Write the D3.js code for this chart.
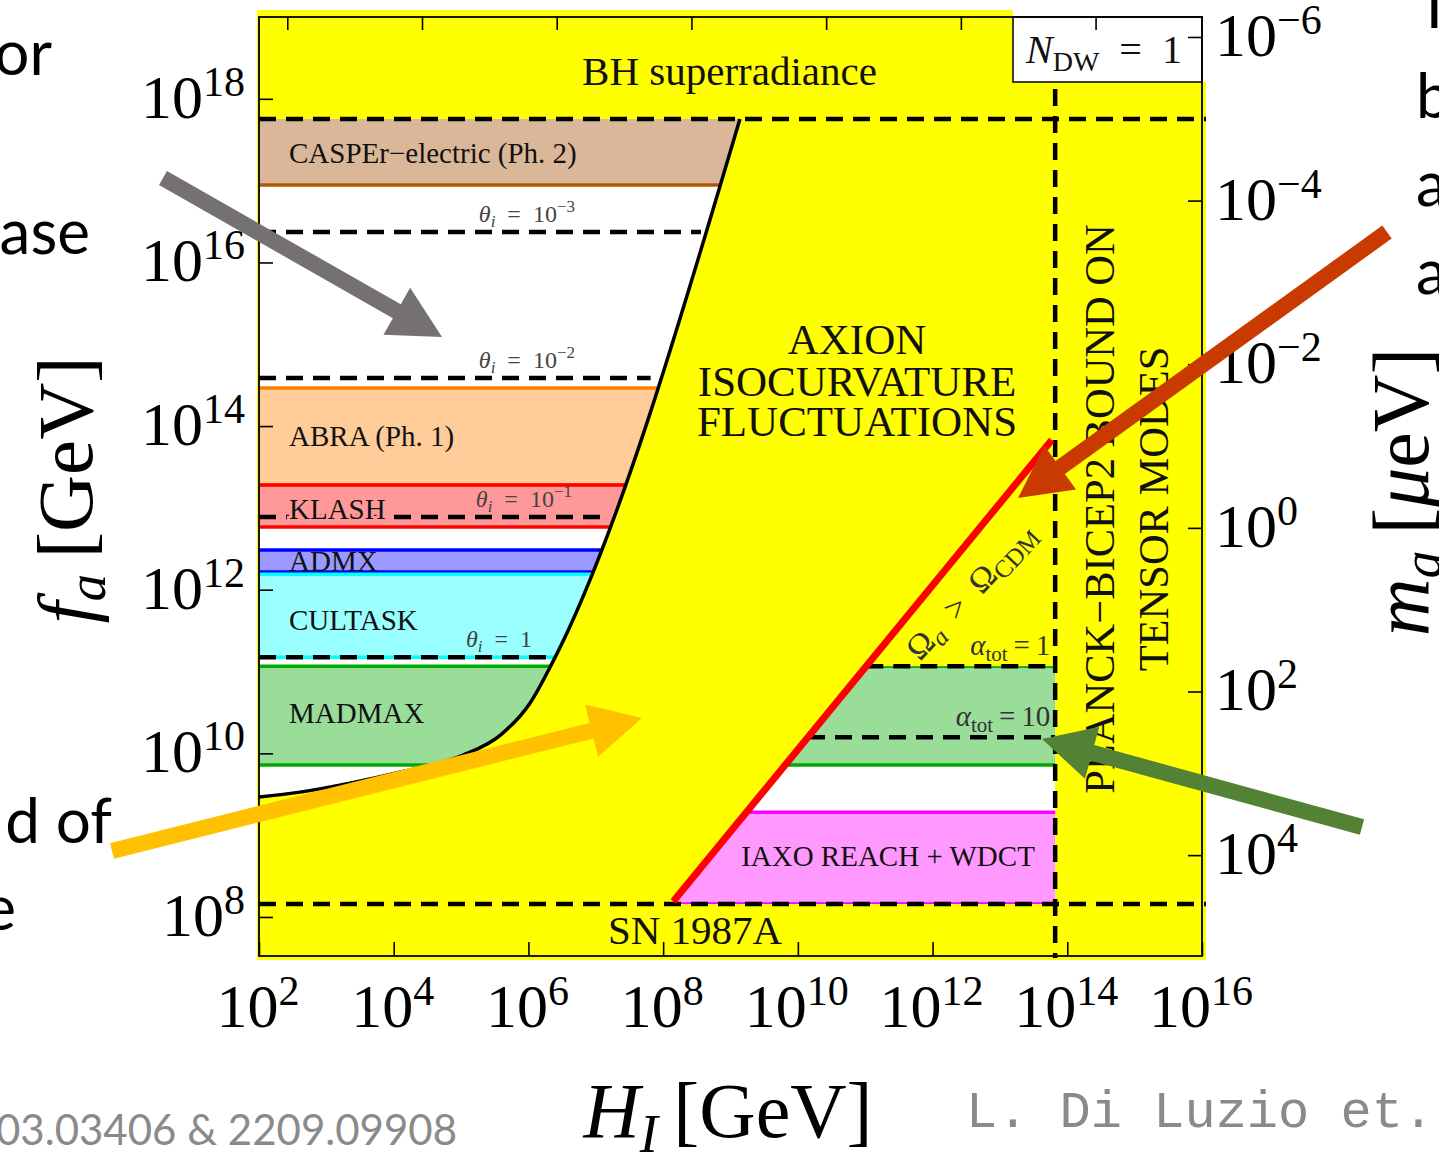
<!DOCTYPE html>
<html>
<head>
<meta charset="utf-8">
<script src="https://cdn.jsdelivr.net/npm/d3@7"></script>
<style>
  body { margin: 0; background: #fff; }
  svg { display: block; }
</style>
</head>
<body>
<div id="container"></div>
<script>
// ---- values (log10 units) ----
const xTickExp = [2, 4, 6, 8, 10, 12, 14, 16];
const topTickExp = [2.42, 4.42, 6.42, 8.42, 10.42, 12.42, 14.42];
const yTickExp = [8, 10, 12, 14, 16, 18];
const maTickExp = [-6, -4, -2, 0, 2, 4];

// isocurvature bound (black curve)
const isoLogH  = [2.0, 2.61, 3.35, 4.09, 5.03, 5.58, 6.02, 6.36, 9.14];
const isoLogFa = [9.465, 9.526, 9.636, 9.77, 9.978, 10.22, 10.61, 11.115, 17.753];

// experiment bands in the low H_I region
const bandNames  = ['CASPEr\u2212electric (Ph. 2)', 'ABRA (Ph. 1)', 'KLASH', 'ADMX', 'CULTASK', 'MADMAX'];
const bandTop    = [17.753, 14.465, 13.28, 12.484, 12.19, 11.066];
const bandBottom = [16.946, 13.279, 12.765, 12.215, 11.176, 9.856];
const bandFill   = ['#dab799', '#ffcc99', '#ff9999', '#9999ff', '#99ffff', '#99dd99'];
const bandLine   = ['#b35900', '#ff8000', '#ff0000', '#0000ff', '#00ffff', '#00aa00'];

// initial misalignment angle lines
const thetaExp   = ['\u22123', '\u22122', '\u22121', ''];
const thetaLogFa = [16.372, 14.587, 12.888, 11.176];

const bhLogFa = 17.753;      // BH superradiance
const snLogFa = 8.16;        // SN 1987A
const planckLogH = 13.82;    // Planck-BICEP2
const cdmLogH  = [8.15, 13.77];   // Omega_a = Omega_CDM
const cdmLogFa = [8.19, 13.83];
const alphaTot   = ['1', '10'];
const alphaLogFa = [11.066, 10.198];
const madmaxRight = [11.066, 9.856];
const iaxoRight   = [9.281, 8.16];
const maCoef = 5.7e12;       // m_a [ueV] = 5.7e12 / f_a [GeV]

const W = 1439, H = 1158;
const serif = 'Liberation Serif, Times New Roman, serif';

const svg = d3.select('#container').append('svg')
    .attr('width', W).attr('height', H);

const xs = d3.scaleLog().domain([1e2, 1e16]).range([259, 1202]);
const ys = d3.scaleLog().domain([Math.pow(10, 7.523), 1e19]).range([956, 17]);
const ms = d3.scaleLog()
    .domain([maCoef / Math.pow(10, 7.523), maCoef / 1e19])
    .range([956, 17]);
const X = e => xs(Math.pow(10, e));
const Y = e => ys(Math.pow(10, e));
const [x0, x1] = xs.range();
const [y0, y1] = ys.range();

// yellow background (slightly larger than the frame)
svg.append('rect')
    .attr('x', x0 - 2).attr('y', y1 - 7)
    .attr('width', x1 - x0 + 6).attr('height', y0 - y1 + 11)
    .attr('fill', '#ffff00');

// ---- allowed region, low H_I ----
const isoPts = isoLogH.map((h, i) => [h, isoLogFa[i]]);
const leftArea = d3.area()
    .x(d => X(d[0]))
    .y0(() => Y(bhLogFa))
    .y1(d => Y(d[1]))
    .curve(d3.curveMonotoneX);

const defs = svg.append('defs');
defs.append('clipPath').attr('id', 'clipLeft')
    .append('path').attr('d', leftArea(isoPts));

svg.append('path').attr('d', leftArea(isoPts)).attr('fill', '#fff');

const gLeft = svg.append('g').attr('clip-path', 'url(#clipLeft)');
bandNames.forEach((name, i) => {
    gLeft.append('rect')
        .attr('x', x0).attr('width', x1 - x0)
        .attr('y', Y(bandTop[i]))
        .attr('height', Y(bandBottom[i]) - Y(bandTop[i]))
        .attr('fill', bandFill[i]);
});
bandNames.forEach((name, i) => {
    const lines = bandTop[i] < bhLogFa ? [bandTop[i], bandBottom[i]] : [bandBottom[i]];
    lines.forEach(v => {
        gLeft.append('line')
            .attr('x1', x0).attr('x2', x1)
            .attr('y1', Y(v)).attr('y2', Y(v))
            .attr('stroke', bandLine[i]).attr('stroke-width', 3.5);
    });
});

// ---- allowed region, high H_I (right of the CDM line) ----
const cdmH = fa => cdmLogH[0] + (fa - cdmLogFa[0]) * (cdmLogH[1] - cdmLogH[0]) / (cdmLogFa[1] - cdmLogFa[0]);
const rightPoly = [
    [cdmH(madmaxRight[0]), madmaxRight[0]],
    [planckLogH, madmaxRight[0]],
    [planckLogH, snLogFa],
    [cdmH(snLogFa), snLogFa]
];
const polyLine = d3.line().x(d => X(d[0])).y(d => Y(d[1]));
defs.append('clipPath').attr('id', 'clipRight')
    .append('path').attr('d', polyLine(rightPoly) + 'Z');

const gRight = svg.append('g').attr('clip-path', 'url(#clipRight)');
gRight.append('path').attr('d', polyLine(rightPoly) + 'Z').attr('fill', '#fff');
[[madmaxRight, '#99dd99', '#00aa00'], [iaxoRight, '#ff99ff', '#ff00ff']].forEach(([b, fill, line]) => {
    gRight.append('rect')
        .attr('x', x0).attr('width', x1 - x0)
        .attr('y', Y(b[0])).attr('height', Y(b[1]) - Y(b[0]))
        .attr('fill', fill);
    b.forEach(v => {
        gRight.append('line')
            .attr('x1', x0).attr('x2', x1)
            .attr('y1', Y(v)).attr('y2', Y(v))
            .attr('stroke', line).attr('stroke-width', 3.5);
    });
});

// isocurvature curve
svg.append('path')
    .attr('d', d3.line().x(d => X(d[0])).y(d => Y(d[1])).curve(d3.curveMonotoneX)(isoPts))
    .attr('fill', 'none').attr('stroke', '#000').attr('stroke-width', 3.5);

// ---- dashed lines ----
const dash = sel => sel.attr('stroke', '#000').attr('stroke-width', 4.5)
    .attr('stroke-dasharray', '17,10').attr('fill', 'none');
const isoH = d3.scaleLinear().domain(isoLogFa).range(isoLogH);

thetaLogFa.forEach(v => {
    svg.append('line').attr('x1', x0).attr('x2', X(isoH(v)))
        .attr('y1', Y(v)).attr('y2', Y(v)).call(dash);
});
alphaLogFa.forEach(v => {
    svg.append('line').attr('x1', X(cdmH(v))).attr('x2', X(planckLogH))
        .attr('y1', Y(v)).attr('y2', Y(v)).call(dash);
});
[bhLogFa, snLogFa].forEach(v => {
    svg.append('line').attr('x1', x0).attr('x2', x1 + 4)
        .attr('y1', Y(v)).attr('y2', Y(v)).call(dash);
});
svg.append('line').attr('x1', X(planckLogH)).attr('x2', X(planckLogH))
    .attr('y1', 89).attr('y2', y0 + 2).call(dash);

// Omega_a = Omega_CDM line
svg.append('line')
    .attr('x1', X(cdmLogH[0])).attr('y1', Y(cdmLogFa[0]))
    .attr('x2', X(cdmLogH[1])).attr('y2', Y(cdmLogFa[1]))
    .attr('stroke', '#ff0000').attr('stroke-width', 7);

// ---- labels inside the plot ----
const txt = (x, y, s, size, anchor) => svg.append('text')
    .attr('x', x).attr('y', y).attr('font-family', serif)
    .attr('font-size', size).attr('text-anchor', anchor || 'start')
    .attr('fill', '#111').text(s);

const bandLabelY = [163, 446, 519, 571, 630, 723];
bandNames.forEach((name, i) => {
    const t = txt(x0 + 30, bandLabelY[i], name, 29);
    if (name === 'KLASH') {
        t.attr('stroke', bandFill[i]).attr('stroke-width', 6).attr('paint-order', 'stroke');
    }
});

txt((x0 + x1) / 2 - 1, 85, 'BH superradiance', 41, 'middle');
txt(X(7.18), 944, 'SN 1987A', 41);
txt(888, 866, 'IAXO REACH + WDCT', 29, 'middle');
['AXION', 'ISOCURVATURE', 'FLUCTUATIONS'].forEach((s, i) => {
    txt(857, [354, 396, 436][i], s, 43, 'middle');
});
['PLANCK\u2212BICEP2 BOUND ON', 'TENSOR MODES'].forEach((s, i) => {
    const bx = [1114, 1168][i];
    svg.append('text').attr('transform', `translate(${bx},509) rotate(-90)`)
        .attr('font-family', serif).attr('font-size', 42.5).attr('fill', '#111')
        .attr('text-anchor', 'middle').text(s);
});

// theta_i labels
const thetaEnd = [575, 575, 572, 532];
thetaLogFa.forEach((v, i) => {
    const t = svg.append('text').attr('x', thetaEnd[i]).attr('y', Y(v) - 10)
        .attr('font-family', serif).attr('font-size', 24).attr('fill', '#444')
        .attr('text-anchor', 'end');
    t.append('tspan').attr('font-style', 'italic').text('\u03b8');
    t.append('tspan').attr('font-style', 'italic').attr('font-size', 17).attr('dy', 5).text('i');
    t.append('tspan').attr('dy', -5).text(thetaExp[i] ? '\u2002=\u200210' : '\u2002=\u20021');
    if (thetaExp[i]) t.append('tspan').attr('font-size', 17).attr('dy', -10).text(thetaExp[i]);
});

// alpha_tot labels
alphaLogFa.forEach((v, i) => {
    const t = svg.append('text').attr('x', X(planckLogH) - 5).attr('y', Y(v) - 11)
        .attr('font-family', serif).attr('font-size', 29).attr('fill', '#333')
        .attr('text-anchor', 'end');
    t.append('tspan').attr('font-style', 'italic').text('\u03b1');
    t.append('tspan').attr('font-size', 21).attr('dy', 6).text('tot');
    t.append('tspan').attr('dy', -6).text('\u2009=\u2009' + alphaTot[i]);
});

// Omega_a > Omega_CDM along the red line
{
    const t = svg.append('text').attr('transform', 'translate(920,662) rotate(-47)')
        .attr('font-family', serif).attr('font-size', 34).attr('fill', '#333');
    t.append('tspan').text('\u03a9');
    t.append('tspan').attr('font-style', 'italic').attr('font-size', 25).attr('dy', 6).text('a');
    t.append('tspan').attr('dy', -6).text('\u2002>\u2002\u03a9');
    t.append('tspan').attr('font-size', 25).attr('dy', 6).text('CDM');
}

// N_DW = 1 box
svg.append('rect').attr('x', 1013).attr('y', 0).attr('width', 200).attr('height', 82).attr('fill', '#fff');
svg.append('rect').attr('x', 1013).attr('y', y1).attr('width', x1 - 1013).attr('height', 82 - y1)
    .attr('fill', 'none').attr('stroke', '#000').attr('stroke-width', 1.5);
{
    const t = svg.append('text').attr('x', 1026).attr('y', 63)
        .attr('font-family', serif).attr('font-size', 40).attr('fill', '#111');
    t.append('tspan').attr('font-style', 'italic').text('N');
    t.append('tspan').attr('font-size', 28).attr('dy', 8).text('DW');
    t.append('tspan').attr('dy', -8).text('\u2002=\u20021');
}

// ---- frame and ticks ----
svg.append('rect').attr('x', x0).attr('y', y1).attr('width', x1 - x0).attr('height', y0 - y1)
    .attr('fill', 'none').attr('stroke', '#000').attr('stroke-width', 1.8);

const styleAxis = g => {
    g.select('.domain').remove();
    g.selectAll('.tick line').attr('stroke', '#000').attr('stroke-width', 1.6);
};
svg.append('g').attr('transform', `translate(0,${y0})`)
    .call(d3.axisBottom(xs).tickValues(xTickExp.map(e => Math.pow(10, e))).tickSize(-14).tickFormat(''))
    .call(styleAxis);
svg.append('g').attr('transform', `translate(0,${y1})`)
    .call(d3.axisTop(xs).tickValues(topTickExp.map(e => Math.pow(10, e))).tickSize(-13).tickFormat(''))
    .call(styleAxis);
svg.append('g').attr('transform', `translate(${x0},0)`)
    .call(d3.axisLeft(ys).tickValues(yTickExp.map(e => Math.pow(10, e))).tickSize(-14).tickFormat(''))
    .call(styleAxis);
svg.append('g').attr('transform', `translate(${x1},0)`)
    .call(d3.axisRight(ms).tickValues(maTickExp.map(e => Math.pow(10, e))).tickSize(-14).tickFormat(''))
    .call(styleAxis);

// tick labels 10^n
const expStr = e => (e < 0 ? '\u2212' : '') + Math.abs(e);
const powLabel = (x, y, e, anchor) => {
    const t = svg.append('text').attr('x', x).attr('y', y)
        .attr('font-family', serif).attr('font-size', 62).attr('fill', '#000')
        .attr('text-anchor', anchor);
    t.append('tspan').text('10');
    t.append('tspan').attr('font-size', 42).attr('dy', -22).text(expStr(e));
};
yTickExp.forEach(e => powLabel(245, Y(e) + 19, e, 'end'));
xTickExp.forEach(e => powLabel(X(e) - 1, 1027, e, 'middle'));
maTickExp.forEach(e => powLabel(1215, ms(Math.pow(10, e)) + 19, e, 'start'));

// axis titles
{
    const t = svg.append('text').attr('x', 728).attr('y', 1137)
        .attr('font-family', serif).attr('font-size', 78).attr('text-anchor', 'middle').attr('fill', '#000');
    t.append('tspan').attr('font-style', 'italic').text('H');
    t.append('tspan').attr('font-style', 'italic').attr('font-size', 54).attr('dy', 15).text('I');
    t.append('tspan').attr('dy', -15).text('\u2009[GeV]');

    const f = svg.append('text').attr('transform', 'translate(92,490) rotate(-90)')
        .attr('font-family', serif).attr('font-size', 79).attr('text-anchor', 'middle').attr('fill', '#000');
    f.append('tspan').attr('font-style', 'italic').text('f');
    f.append('tspan').attr('font-style', 'italic').attr('font-size', 55).attr('dy', 13).text('a');
    f.append('tspan').attr('dy', -13).text('\u2009[GeV]');

    const m = svg.append('text').attr('transform', 'translate(1428,492) rotate(-90)')
        .attr('font-family', serif).attr('font-size', 80).attr('text-anchor', 'middle').attr('fill', '#000');
    m.append('tspan').attr('font-style', 'italic').text('m');
    m.append('tspan').attr('font-style', 'italic').attr('font-size', 56).attr('dy', 13).text('a');
    m.append('tspan').attr('dy', -13).text('\u2009[');
    m.append('tspan').attr('font-style', 'italic').text('\u03bc');
    m.append('tspan').text('eV]');
}

// ---- slide overlay: cut text and arrows ----
const sans = 'Lato, Open Sans, sans-serif';
[['or', 52, 75], ['ase', 90, 254], ['d of', 112, 843], ['e', 16, 930]].forEach(([s, x, y]) => {
    svg.append('text').attr('x', x).attr('y', y).attr('font-family', sans)
        .attr('font-size', 62).attr('text-anchor', 'end').attr('fill', '#000').text(s);
});
[['T', 28], ['b', 118], ['a', 206], ['a', 294]].forEach(([s, y]) => {
    svg.append('text').attr('x', 1416).attr('y', y).attr('font-family', sans)
        .attr('font-size', 62).attr('fill', '#000').text(s);
});
svg.append('text').attr('x', 457).attr('y', 1145).attr('font-family', sans)
    .attr('font-size', 42).attr('text-anchor', 'end').attr('fill', '#8a8a8a')
    .text('2203.03406 & 2209.09908');
svg.append('text').attr('x', 966).attr('y', 1127).attr('font-family', 'Liberation Mono, monospace')
    .attr('font-size', 52).attr('fill', '#8a8a8a').text('L. Di Luzio et. al');

function arrowPoints(ax, ay, bx, by, w, hl, hw) {
    const len = Math.hypot(bx - ax, by - ay);
    const ux = (bx - ax) / len, uy = (by - ay) / len, nx = -uy, ny = ux;
    const cx = bx - ux * hl, cy = by - uy * hl;
    return [
        [ax + nx * w / 2, ay + ny * w / 2], [cx + nx * w / 2, cy + ny * w / 2],
        [cx + nx * hw, cy + ny * hw], [bx, by],
        [cx - nx * hw, cy - ny * hw], [cx - nx * w / 2, cy - ny * w / 2],
        [ax - nx * w / 2, ay - ny * w / 2]
    ];
}
[
    [163, 178, 442, 337, '#767171'],
    [1387, 232, 1018, 498, '#c83a00'],
    [112, 851, 642, 718, '#ffc000'],
    [1362, 827, 1042, 739, '#548235']
].forEach(([ax, ay, bx, by, c]) => {
    svg.append('polygon')
        .attr('points', arrowPoints(ax, ay, bx, by, 16, 52, 27).map(p => p.join(',')).join(' '))
        .attr('fill', c);
});
</script>
</body>
</html>
